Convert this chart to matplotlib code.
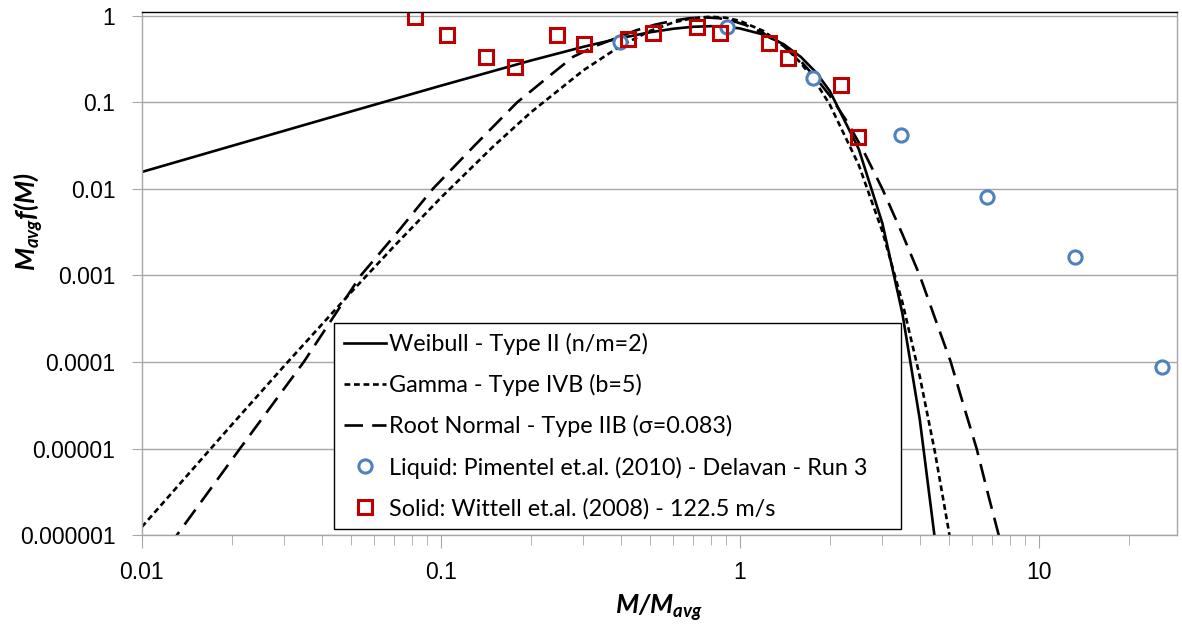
"""
Mass distribution fits vs measured liquid / solid fragment data (log-log).
"""

import matplotlib
matplotlib.use("Agg")
import matplotlib.pyplot as plt
from matplotlib.ticker import FixedLocator, FixedFormatter, LogLocator, NullFormatter

# Weibull - Type II (n/m=2)
weibull_x = [0.01, 0.02, 0.05, 0.1, 0.2, 0.3, 0.4, 0.5, 0.6, 0.7, 0.8, 0.9, 1.0,
             1.2, 1.4, 1.6, 1.8, 2.0, 2.5, 3.0, 3.5, 4.0, 4.5, 4.6]
weibull_y = [0.0157, 0.0314, 0.0784, 0.1558, 0.3044, 0.439, 0.554, 0.645, 0.710,
             0.748, 0.760, 0.748, 0.716, 0.608, 0.472, 0.336, 0.222, 0.1357, 0.029,
             0.00401, 3.64e-4, 2.19e-5, 8.77e-7, 4.5e-7]

# Gamma - Type IVB (b=5)
gamma_x = [0.01, 0.02, 0.03, 0.05, 0.07, 0.1, 0.15, 0.2, 0.3, 0.4, 0.5, 0.6, 0.7,
           0.8, 0.9, 1.0, 1.2, 1.4, 1.6, 1.8, 2.0, 2.5, 3.0, 3.5, 4.0, 4.5, 5.0, 5.1]
gamma_y = [1.24e-6, 1.885e-5, 9.08e-5, 6.34e-4, 2.2e-3, 7.9e-3, 0.0311, 0.0766,
           0.235, 0.451, 0.668, 0.840, 0.944, 0.977, 0.949, 0.877, 0.669, 0.456,
           0.286, 0.169, 0.0946, 0.019, 3.23e-3, 4.9e-4, 6.87e-5, 9.0e-6, 1.13e-6, 7.4e-7]

# Root Normal - Type IIB (sigma=0.083)
rootnorm_x = [0.0125, 0.0131, 0.0213, 0.0348, 0.054, 0.0729, 0.094, 0.13, 0.18, 0.23,
              0.277, 0.33, 0.388, 0.45, 0.52, 0.6, 0.68, 0.76, 0.85, 0.95, 1.05,
              1.2, 1.4, 1.6, 1.8, 2.0, 2.3, 2.6, 3.0, 3.5, 4.0, 4.5, 5.08, 5.6,
              6.2, 6.8, 7.35, 7.5]
rootnorm_y = [7e-7, 1e-6, 1e-5, 1e-4, 1e-3, 3.4e-3, 0.01, 0.032, 0.1, 0.2, 0.336,
              0.45, 0.557, 0.68, 0.79, 0.88, 0.94, 0.96, 0.94, 0.87, 0.78, 0.63,
              0.45, 0.30, 0.19, 0.12, 0.058, 0.027, 0.01, 3.0e-3, 1e-3, 3.2e-4,
              1e-4, 3.2e-5, 1e-5, 2.8e-6, 1e-6, 7e-7]

# Liquid: Pimentel et.al. (2010)
liquid_x = [0.397, 0.906, 1.754, 3.45, 6.70, 13.2, 25.8]
liquid_y = [0.50, 0.746, 0.192, 0.042, 0.0081, 0.00164, 8.75e-5]

# Solid: Wittell et.al. (2008)
solid_x = [0.0818, 0.1047, 0.1415, 0.177, 0.244, 0.301, 0.422, 0.512, 0.718,
           0.857, 1.25, 1.448, 2.18, 2.48]
solid_y = [0.97, 0.603, 0.336, 0.257, 0.603, 0.475, 0.542, 0.636, 0.746, 0.636,
           0.487, 0.327, 0.159, 0.040]

y_ticks = [1e-6, 1e-5, 1e-4, 1e-3, 1e-2, 1e-1, 1]
y_tick_labels = ["0.000001", "0.00001", "0.0001", "0.001", "0.01", "0.1", "1"]
x_ticks = [0.01, 0.1, 1, 10]
x_tick_labels = ["0.01", "0.1", "1", "10"]


def main():
    plt.rcParams["font.family"] = ["Liberation Sans", "DejaVu Sans"]
    plt.rcParams["mathtext.fontset"] = "custom"
    plt.rcParams["mathtext.it"] = "Lato:italic:bold"
    plt.rcParams["mathtext.rm"] = "Lato:italic:bold"
    plt.rcParams["mathtext.bf"] = "Lato:italic:bold"

    fig = plt.figure(figsize=(11.82, 6.28), dpi=100)
    ax = fig.add_axes([0.120, 0.148, 0.8757, 0.833])

    lw = 1.9
    ax.plot(weibull_x, weibull_y, color="black", lw=lw, ls="-",
            label="Weibull - Type II (n/m=2)")
    ax.plot(gamma_x, gamma_y, color="black", lw=lw, ls=(0, (2.2, 1.4)),
            label="Gamma - Type IVB (b=5)")
    ax.plot(rootnorm_x, rootnorm_y, color="black", lw=lw, ls=(0, (7, 3.5)),
            label="Root Normal - Type IIB (\u03c3=0.083)")
    ax.plot(liquid_x, liquid_y, ls="none", marker="o", ms=9.5, mfc="white",
            mec="#4F81BD", mew=2.2,
            label="Liquid: Pimentel et.al. (2010) - Delavan - Run 3")
    ax.plot(solid_x, solid_y, ls="none", marker="s", ms=9.5, mfc="none",
            mec="#C00000", mew=2.2,
            label="Solid: Wittell et.al. (2008) - 122.5 m/s")

    ax.set_xscale("log")
    ax.set_yscale("log")
    ax.set_xlim(0.01, 29)
    ax.set_ylim(1e-6, 1.11)

    ax.yaxis.set_major_locator(FixedLocator(y_ticks))
    ax.yaxis.set_major_formatter(FixedFormatter(y_tick_labels))
    ax.yaxis.set_minor_locator(FixedLocator([]))
    ax.xaxis.set_major_locator(FixedLocator(x_ticks))
    ax.xaxis.set_major_formatter(FixedFormatter(x_tick_labels))
    ax.xaxis.set_minor_locator(LogLocator(base=10, subs=range(2, 10)))
    ax.xaxis.set_minor_formatter(NullFormatter())

    ax.grid(axis="y", which="major", color="#A6A6A6", lw=1.0)
    ax.set_axisbelow(True)
    for side in ["left", "bottom", "right"]:
        ax.spines[side].set_color("#A6A6A6")
        ax.spines[side].set_linewidth(1.0)
    ax.spines["top"].set_color("black")
    ax.spines["top"].set_linewidth(1.0)

    ax.tick_params(axis="both", which="both", color="#A6A6A6", labelsize=16.5,
                   direction="out")
    ax.tick_params(axis="y", which="major", length=7, pad=12)
    ax.tick_params(axis="x", which="major", length=9, pad=10)
    ax.tick_params(axis="x", which="minor", length=7)

    ax.set_xlabel("$M/M_{avg}$", fontsize=19, labelpad=6)
    ax.set_ylabel("$M_{avg}f(M)$", fontsize=19)
    ax.yaxis.set_label_coords(-0.094, 0.6)

    leg = ax.legend(loc="lower left", bbox_to_anchor=(0.1855, 0.0115, 0.5475, 0.3935),
                    mode="expand", borderaxespad=0, fancybox=False,
                    edgecolor="black", framealpha=1, handlelength=1.8,
                    handletextpad=0.15, labelspacing=0.82, borderpad=0.42,
                    prop={"family": "Lato", "size": 16.8})
    leg.get_frame().set_linewidth(1.0)

    fig.savefig("out.png", dpi=100)


if __name__ == "__main__":
    main()
